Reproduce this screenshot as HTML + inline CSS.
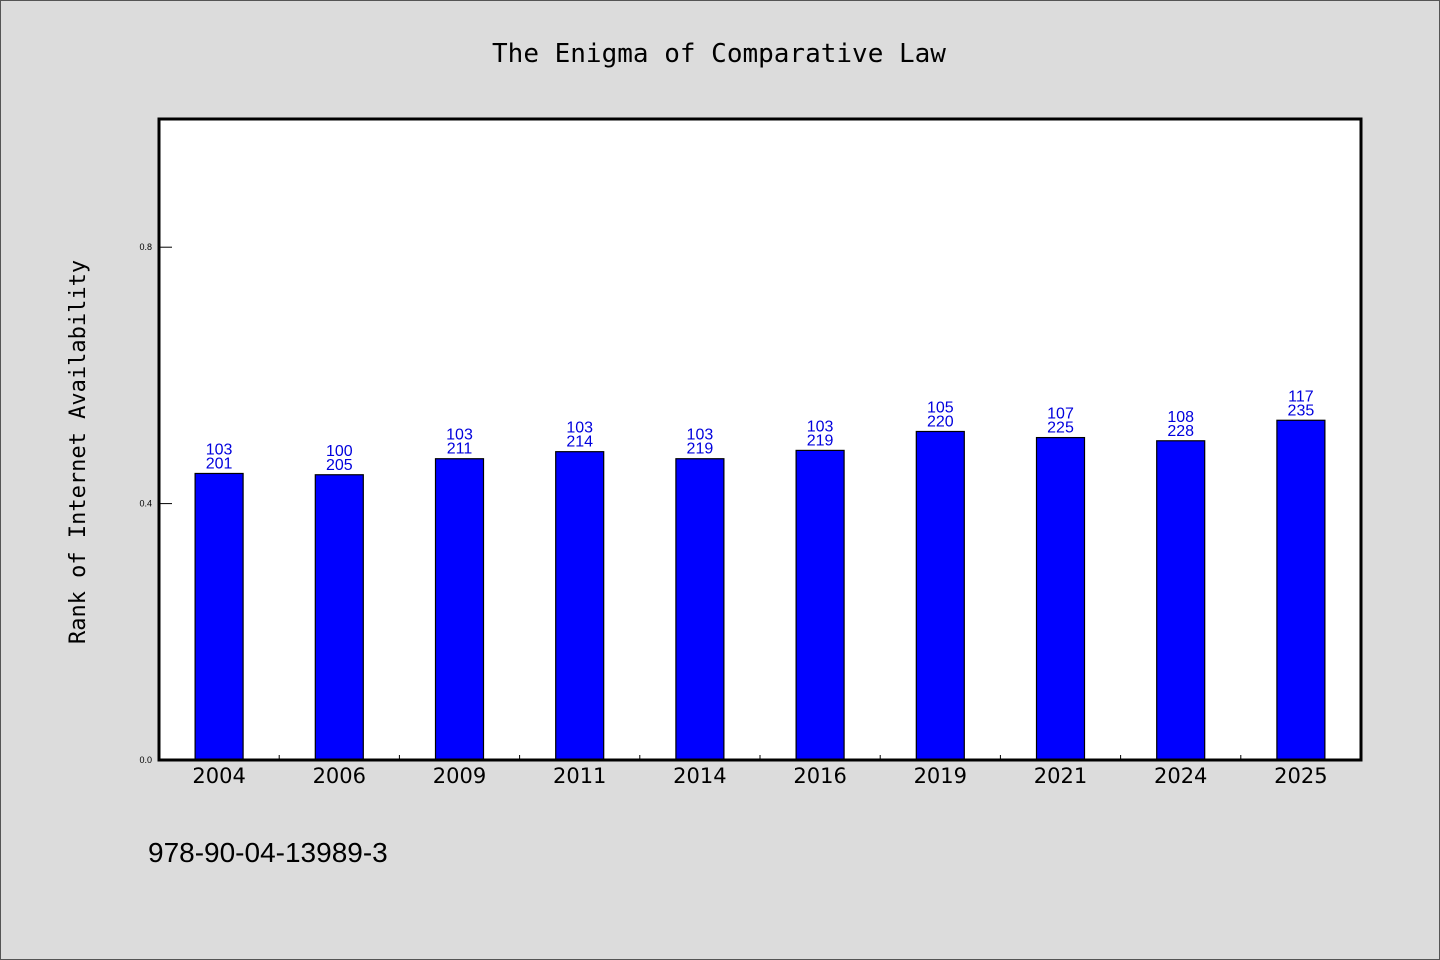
<!DOCTYPE html>
<html><head><meta charset="utf-8"><style>
html,body{margin:0;padding:0;background:#dcdcdc;}
svg{display:block;}
</style></head><body>
<svg width="1440" height="960" xmlns="http://www.w3.org/2000/svg">
<rect x="0.5" y="0.5" width="1439" height="959" fill="#dcdcdc" stroke="#555"/>
<text x="719" y="62" text-anchor="middle" font-family="'WenQuanYi Zen Hei Mono','WenQuanYi Zen Hei',monospace" font-size="26" fill="#000">The Enigma of Comparative Law</text>
<rect x="159" y="119" width="1202" height="641" fill="#fff"/>
<g id="bars"></g>
<rect x="159" y="119" width="1202" height="641" fill="none" stroke="#000" stroke-width="3"/>
<g id="axes"></g>
<text transform="translate(85,452) rotate(-90)" text-anchor="middle" font-family="'WenQuanYi Zen Hei Mono','WenQuanYi Zen Hei',monospace" font-size="22" fill="#000">Rank of Internet Availability</text>
<text x="148" y="862" font-family="'WenQuanYi Zen Hei','Liberation Sans',sans-serif" font-size="28" fill="#000">978-90-04-13989-3</text>
</svg>
<script>
const categories = ["2004","2006","2009","2011","2014","2016","2019","2021","2024","2025"];
const values = [0.447,0.445,0.470,0.481,0.470,0.483,0.5125,0.503,0.498,0.530];
const labelTop = ["103","100","103","103","103","103","105","107","108","117"];
const labelBottom = ["201","205","211","214","219","219","220","225","228","235"];
const yTicks = [0.0,0.4,0.8];
const yTickLabels = ["0.0","0.4","0.8"];

const NS="http://www.w3.org/2000/svg";
const X0=159,X1=1361,Y0=760,Y1=119,YMAX=1.0;
const slot=(X1-X0)/categories.length;
const xc=i=>X0+slot*(i+0.5);
const y=v=>Y0-(v/YMAX)*(Y0-Y1);
function mk(tag,attrs,parent){const e=document.createElementNS(NS,tag);for(const k in attrs)e.setAttribute(k,attrs[k]);parent.appendChild(e);return e;}
const bars=document.getElementById('bars'), axes=document.getElementById('axes');
const bw=48;
categories.forEach((c,i)=>{
  const r=mk('rect',{x:xc(i)-bw/2,y:y(values[i]),width:bw,height:Y0-y(values[i]),fill:'#0000ff',stroke:'#000','stroke-width':1.2},bars);
  
  
  const t1=mk('text',{x:xc(i),y:y(values[i])-19,'text-anchor':'middle','font-family':"'Liberation Sans',sans-serif",'font-size':16,fill:'#0000dd'},bars);
  t1.textContent=labelTop[i];
  
  
  const t2=mk('text',{x:xc(i),y:y(values[i])-5,'text-anchor':'middle','font-family':"'Liberation Sans',sans-serif",'font-size':16,fill:'#0000dd'},bars);
  t2.textContent=labelBottom[i];
  
  
  const xl=mk('text',{x:xc(i),y:783,'text-anchor':'middle','font-family':"'DejaVu Sans','Liberation Sans',sans-serif",'font-size':21,fill:'#000'},axes);
  xl.textContent=c;
  
  
  if(i>0){
    const tk=mk('line',{x1:X0+slot*i,x2:X0+slot*i,y1:Y0,y2:Y0-5,stroke:'#000','stroke-width':1},axes);
    
    
  }
});
yTicks.forEach((v,i)=>{
  const tk=mk('line',{x1:X0,x2:X0+13,y1:y(v),y2:y(v),stroke:'#000','stroke-width':1},axes);
  
  
  const t=mk('text',{x:152,y:y(v)+3,'text-anchor':'end','font-family':"'Liberation Sans',sans-serif",'font-size':9,fill:'#000'},axes);
  t.textContent=yTickLabels[i];
  
  
});
</script>
</body></html>
